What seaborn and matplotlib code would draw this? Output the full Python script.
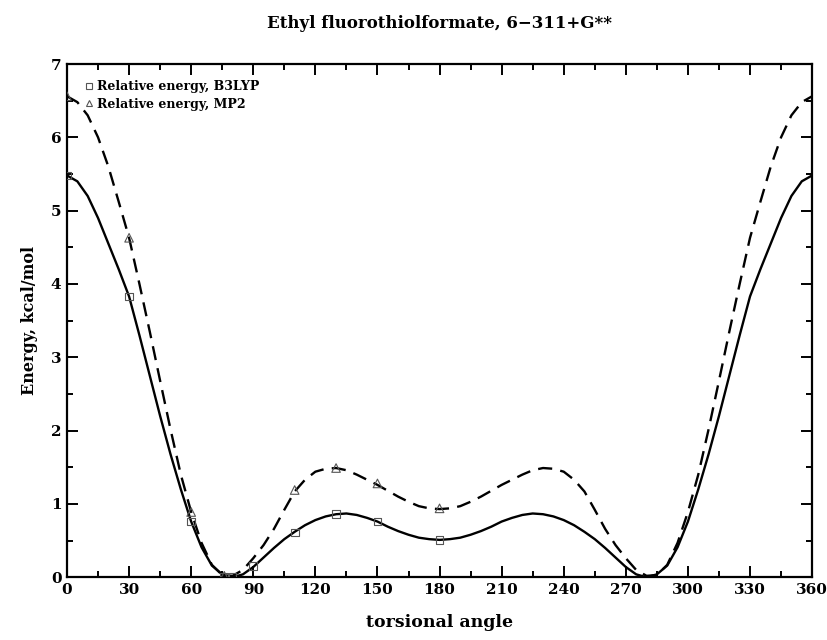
import numpy as np
import pandas as pd
import matplotlib
matplotlib.use('Agg')
import matplotlib.pyplot as plt
from matplotlib.lines import Line2D
from matplotlib.ticker import MultipleLocator
import seaborn as sns

# fitted curves, every 5 degrees
curve_angle = list(range(0, 365, 5))
b3lyp_curve = [5.48, 5.40, 5.20, 4.90, 4.55, 4.20, 3.83, 3.30, 2.75, 2.20, 1.68, 1.20,
               0.76, 0.41, 0.16, 0.04, 0.00, 0.04, 0.14, 0.27, 0.40, 0.52, 0.62, 0.71,
               0.78, 0.83, 0.86, 0.87, 0.85, 0.81, 0.76, 0.69, 0.63, 0.58, 0.54, 0.52,
               0.51,
               0.52, 0.54, 0.58, 0.63, 0.69, 0.76, 0.81, 0.85, 0.87, 0.86, 0.83, 0.78,
               0.71, 0.62, 0.52, 0.40, 0.27, 0.14, 0.04, 0.00, 0.04, 0.16, 0.41, 0.76,
               1.20, 1.68, 2.20, 2.75, 3.30, 3.83, 4.20, 4.55, 4.90, 5.20, 5.40, 5.48]
mp2_curve = [6.56, 6.48, 6.30, 6.00, 5.60, 5.12, 4.63, 4.00, 3.35, 2.68, 2.02, 1.40,
             0.89, 0.47, 0.17, 0.03, 0.02, 0.10, 0.26, 0.44, 0.66, 0.92, 1.17, 1.33,
             1.44, 1.48, 1.49, 1.46, 1.40, 1.33, 1.26, 1.18, 1.10, 1.03, 0.97, 0.94,
             0.93,
             0.94, 0.97, 1.03, 1.10, 1.18, 1.26, 1.33, 1.40, 1.46, 1.49, 1.48, 1.44,
             1.33, 1.17, 0.92, 0.66, 0.44, 0.26, 0.10, 0.02, 0.03, 0.17, 0.47, 0.89,
             1.40, 2.02, 2.68, 3.35, 4.00, 4.63, 5.12, 5.60, 6.00, 6.30, 6.48, 6.56]

# computed points
b3lyp_angle = [0, 30, 60, 76, 80, 90, 110, 130, 150, 180]
b3lyp_energy = [5.48, 3.83, 0.76, 0.01, 0.00, 0.15, 0.61, 0.86, 0.76, 0.51]
mp2_angle = [0, 30, 60, 76, 110, 130, 150, 180]
mp2_energy = [6.56, 4.63, 0.89, 0.02, 1.19, 1.49, 1.28, 0.94]

sns.set_style('ticks')
plt.rcParams['font.family'] = ['DejaVu Serif', 'DejaVu Sans']
plt.rcParams['font.weight'] = 'bold'
for key in ['text.color', 'axes.labelcolor', 'xtick.color', 'ytick.color', 'axes.edgecolor']:
    plt.rcParams[key] = 'black'

fig = plt.figure(figsize=(8.27, 6.4), dpi=100)
ax = fig.add_axes([0.081, 0.098, 0.901, 0.802])

curves = pd.DataFrame({'angle': curve_angle, 'b3lyp': b3lyp_curve, 'mp2': mp2_curve})
sns.lineplot(data=curves, x='angle', y='b3lyp', ax=ax, color='black', linewidth=1.7)
sns.lineplot(data=curves, x='angle', y='mp2', ax=ax, color='black', linewidth=1.7)
ax.lines[-1].set_dashes((6, 3.5))
for ln in ax.lines:
    ln.set_solid_joinstyle('round')
    ln.set_dash_joinstyle('round')

sns.scatterplot(x=b3lyp_angle, y=b3lyp_energy, ax=ax, marker='s', s=32,
                facecolor='none', edgecolor='#555555', linewidth=0.8, zorder=5)
sns.scatterplot(x=mp2_angle, y=mp2_energy, ax=ax, marker='^', s=38,
                facecolor='none', edgecolor='#555555', linewidth=0.8, zorder=5)

ax.set_xlim(0, 360)
ax.set_ylim(0, 7)
ax.xaxis.set_major_locator(MultipleLocator(30))
ax.xaxis.set_minor_locator(MultipleLocator(15))
ax.yaxis.set_major_locator(MultipleLocator(1))
ax.yaxis.set_minor_locator(MultipleLocator(0.5))
for s in ax.spines.values():
    s.set_linewidth(1.6)
    s.set_color('black')
ax.tick_params(which='both', top=True, right=True, direction='in', width=1.4,
               labelsize=11, colors='black')
ax.tick_params(which='major', length=8, pad=4)
ax.tick_params(which='minor', length=4)
for lab in ax.get_xticklabels() + ax.get_yticklabels():
    lab.set_fontweight('bold')

ax.set_xlabel('torsional angle', fontsize=12.5, fontweight='bold', labelpad=12)
ax.set_ylabel('Energy, kcal/mol', fontsize=11.5, fontweight='bold', labelpad=9)
ax.set_title('Ethyl fluorothiolformate, 6\u2212311+G**', fontsize=12,
             fontweight='bold', pad=26)

handles = [Line2D([], [], marker='s', linestyle='none', markerfacecolor='none',
                  markeredgecolor='#555555', markersize=4.5, markeredgewidth=0.8),
           Line2D([], [], marker='^', linestyle='none', markerfacecolor='none',
                  markeredgecolor='#555555', markersize=4.5, markeredgewidth=0.8)]
ax.legend(handles, ['Relative energy, B3LYP', 'Relative energy, MP2'],
          loc='upper left', bbox_to_anchor=(0.01, 0.99), frameon=False,
          handlelength=0.6, handletextpad=0.3, labelspacing=0.35,
          prop={'size': 9, 'weight': 'bold'})

fig.savefig('out.png', dpi=100)
